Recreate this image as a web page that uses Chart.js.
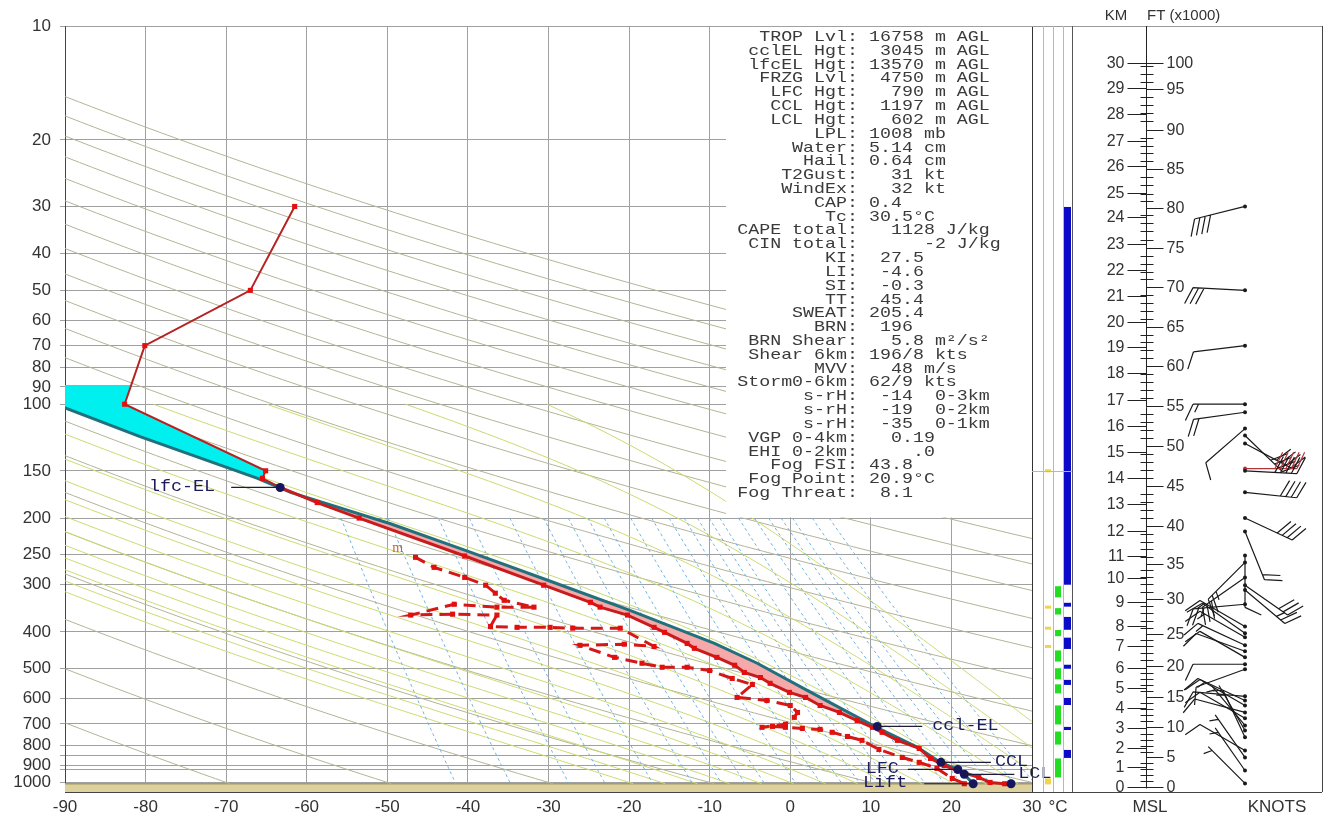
<!DOCTYPE html>
<html>
<head>
<meta charset="utf-8">
<title>Sounding</title>
<script src="https://cdn.jsdelivr.net/npm/chart.js@4.4.1/dist/chart.umd.min.js"></script>
<style>
html,body{margin:0;padding:0;background:#ffffff;overflow:hidden;}
#wrap{position:relative;width:1329px;height:816px;}
</style>
</head>
<body>
<div id="wrap"><canvas id="chart" width="1329" height="816"></canvas></div>
<script>
// ================= DATA =================
const temperatureTicks = [-90,-80,-70,-60,-50,-40,-30,-20,-10,0,10,20,30];
const pressureGridLevels = [10,20,30,40,50,60,70,80,90,100,150,200,250,300,400,500,600,700,800,850,900,925,1000];
const pressureTickLabels = [10,20,30,40,50,60,70,80,90,100,150,200,250,300,400,500,600,700,800,900,1000];
const surfaceP = 1008;
const bottomP = 1060;
const tropopauseP = 89;

// environmental temperature (hPa, degC)
const tempP = [1008,1000,970,930,902,864,813,774,737,715,686,653,626,596,578,547,528,512,490,467,442,429,401,389,361,344,334,301,252,200,182,166,157,150,100,70,50,30];
const tempT = [26.6,24.8,23.4,20.7,19.1,17.4,16.0,13.3,11.4,10.2,8.3,6.1,3.7,1.9,-0.1,-2.5,-3.7,-5.7,-6.9,-9.1,-11.9,-12.8,-15.6,-16.9,-20.2,-23.6,-24.8,-30.6,-40.4,-53.5,-58.7,-63.3,-65.5,-65.1,-82.6,-80.1,-67.0,-61.5];

// dewpoint (hPa, degC)
const dewP = [1008,976,918,885,859,818,774,756,737,724,720,715,711,715,702,673,653,626,607,596,551,531,506,496,496,484,467,434,431,437,391,391,389,389,387,361,359,361,338,344,344,330,316,301,287,270,254];
const dewT = [21.6,20.1,18.2,16.0,13.9,11.0,8.9,7.1,5.2,3.7,1.5,-0.6,-2.2,-3.5,-0.6,0.5,0.9,0.0,-2.9,-6.6,-4.7,-7.2,-10.0,-12.8,-15.9,-18.4,-21.8,-26.1,-20.6,-16.9,-21.1,-27.0,-29.8,-33.9,-37.2,-36.4,-41.9,-47.1,-41.7,-36.4,-31.8,-35.5,-36.6,-37.8,-40.4,-44.2,-46.5];

// lifted parcel path (hPa, degC)
const parcelP = [1008,952,924,885,808,715,571,484,429,351,292,243,207,171,157,122,102];
const parcelT = [22.7,21.6,20.8,18.6,15.8,10.7,2.1,-4.1,-9.4,-19.9,-30.1,-40.4,-49.6,-62.0,-66.1,-80.6,-90.1];
const capeTopP = 166;
const capeBaseP = 930;

// level markers
const markerNames = ['lfc-EL','ccl-EL','CCL','LFC','LCL','Lift',''];
const markerP = [166,711,885,924,952,1008,1008];
const markerT = [-63.3,10.8,18.7,20.8,21.6,22.7,27.4];
const moistTopLabel = {text:'m', t:-48.7, p:240};

// thermodynamic reference lines
const dryAdiabatThetaC = [-70,-50,-30,-10,10,30,50,70,90,110,130,150,170,190,210,230,250,270,290,310,330];
const moistAdiabatThetaWC = [-20,-16,-12,-8,-4,0,4,8,12,16,20,24,28,32,36,40];
const mixingRatioGkg = [0.1,0.2,0.4,0.6,1,1.5,2,2.5,3,4,5,6,7,8,9,10,12,14,16,18,20,24,28];

// stats block
const statLabels = ['TROP Lvl:','cclEL Hgt:','lfcEL Hgt:','FRZG Lvl:','LFC Hgt:','CCL Hgt:','LCL Hgt:','LPL:','Water:','Hail:','T2Gust:','WindEx:','CAP:','Tc:','CAPE total:','CIN total:','KI:','LI:','SI:','TT:','SWEAT:','BRN:','BRN Shear:','Shear 6km:','MVV:','Storm0-6km:','s-rH:','s-rH:','s-rH:','VGP 0-4km:','EHI 0-2km:','Fog FSI:','Fog Point:','Fog Threat:'];
const statValues = ['16758 m AGL',' 3045 m AGL','13570 m AGL',' 4750 m AGL','  790 m AGL',' 1197 m AGL','  602 m AGL','1008 mb','5.14 cm','0.64 cm','  31 kt','  32 kt','0.4','30.5°C','  1128 J/kg','     -2 J/kg',' 27.5',' -4.6',' -0.3',' 45.4','205.4',' 196','  5.8 m²/s²','196/8 kts','  48 m/s','62/9 kts',' -14  0-3km',' -19  0-2km',' -35  0-1km','  0.19','    .0','43.8','20.9°C',' 8.1'];
const statsBoxLeftT = -8;
const statsBoxBottomP = 200;

// height scale (km MSL -> pressure level in this sounding)
const kmLabels = [0,1,2,3,4,5,6,7,8,9,10,11,12,13,14,15,16,17,18,19,20,21,22,23,24,25,26,27,28,29,30];
const kmPressure = [1031,912.6,813,719.7,637.2,564.1,499.4,436.8,386.6,334.0,288.6,252.5,216.8,183.9,157.0,134.0,114.4,97.6,82.8,70.7,60.7,51.8,44.2,37.7,32.0,27.7,23.5,20.2,17.1,14.6,12.5];
const ftLabels = [0,5,10,15,20,25,30,35,40,45,50,55,60,65,70,75,80,85,90,95,100];

// side strips (pressure layers)
const blueLayers = [[30,301],[334,344],[364,396],[413,445],[487,502],[534,554],[596,626],[711,729],[818,864]];
const greenLayers = [[301,326],[344,362],[393,413],[445,482],[496,537],[547,585],[622,707],[729,799],[859,976]];
const yellowMarks = [150,344,391,437];
const yellowBlock = [976,1012];

// winds
const windP = [30,50,70,100,105,116,121,127,148,150,171,200,217,251,262,287,301,310,338,387,403,413,434,450,467,487,502,592,607,626,653,677,707,729,760,823,859,930,1006];
const windDir = [256,273,263,270,262,229,134,118,90,93,96,115,158,180,225,235,125,130,265,300,305,300,295,290,300,270,250,275,295,300,285,300,320,330,335,300,325,325,315];
const windSpd = [40,30,10,15,20,10,40,40,50,50,40,40,20,10,25,30,30,25,25,15,10,15,15,10,10,10,10,10,10,15,10,10,5,5,5,10,5,5,5];
const highlightWindP = 148;

// ================= THERMODYNAMIC REFERENCE CURVES =================
const Rd = 287.04, Cp = 1005.7, Lv = 2.501e6, EPS = 0.622, KAPPA = Rd / Cp;
function satVap(tc){ return 6.112 * Math.exp(17.67 * tc / (tc + 243.5)); }
function satMix(tc, p){ const e = satVap(tc); return EPS * e / (p - e); }
function moistRate(tc, p){
  const T = tc + 273.15, r = satMix(tc, p);
  return (Rd * T + Lv * r) / (Cp + Lv * Lv * r * EPS / (Rd * T * T)) / p;
}
function dryLine(thC){
  const pts = [], n = 150, l0 = Math.log10(10), l1 = Math.log10(surfaceP);
  for (let i = 0; i <= n; i++){
    const p = Math.pow(10, l0 + (l1 - l0) * i / n);
    pts.push({x: (thC + 273.15) * Math.pow(p / 1000, KAPPA) - 273.15, y: p});
  }
  return pts;
}
function moistLine(tw){
  const pts = [];
  pts.push({x: tw + moistRate(tw, 1000) * (surfaceP - 1000), y: surfaceP});
  let t = tw, p = 1000; pts.push({x: t, y: p});
  const dp = -5;
  while (p > 100){
    const k1 = moistRate(t, p), k2 = moistRate(t + k1 * dp / 2, p + dp / 2),
          k3 = moistRate(t + k2 * dp / 2, p + dp / 2), k4 = moistRate(t + k3 * dp, p + dp);
    t += dp * (k1 + 2 * k2 + 2 * k3 + k4) / 6; p += dp;
    pts.push({x: t, y: p});
  }
  return pts;
}
function mixLine(w){
  const pts = [], n = 40;
  for (let i = 0; i <= n; i++){
    const p = 200 + (surfaceP - 200) * i / n;
    const e = (w / 1000) * p / (EPS + w / 1000);
    const a = Math.log(e / 6.112);
    pts.push({x: 243.5 * a / (17.67 - a), y: p});
  }
  return pts;
}
function zip(ts, ps){ return ts.map((t, i) => ({x: t, y: ps[i]})); }
function tempAt(p){
  for (let i = 0; i < tempP.length - 1; i++){
    const a = tempP[i], b = tempP[i + 1];
    if ((p <= a && p >= b) || (p >= a && p <= b)){
      const f = (Math.log(p) - Math.log(a)) / (Math.log(b) - Math.log(a));
      return tempT[i] + f * (tempT[i + 1] - tempT[i]);
    }
  }
  return tempT[tempT.length - 1];
}

// fill polygons built from the profiles
const capePolygon = [];
parcelP.forEach((p, i) => { if (p <= capeBaseP && p >= capeTopP) capePolygon.push({x: parcelT[i], y: p}); });
for (let i = tempP.length - 1; i >= 0; i--){ if (tempP[i] >= capeTopP && tempP[i] <= capeBaseP) capePolygon.push({x: tempT[i], y: tempP[i]}); }

const cyanPolygon = [];
parcelP.forEach((p, i) => { if (p <= 157) cyanPolygon.push({x: parcelT[i], y: p}); });
cyanPolygon.push({x: parcelT[parcelT.length - 1], y: tropopauseP});
cyanPolygon.push({x: tempAt(tropopauseP), y: tropopauseP});
for (let i = tempP.length - 1; i >= 0; i--){ if (tempP[i] >= 100 && tempP[i] <= 157) cyanPolygon.push({x: tempT[i], y: tempP[i]}); }

// ================= DATASETS =================
const datasets = [];
dryAdiabatThetaC.forEach(th => datasets.push({data: dryLine(th), borderColor: '#b5b396', borderWidth: 1, pointRadius: 0, order: 30}));
moistAdiabatThetaWC.forEach(tw => datasets.push({data: moistLine(tw), borderColor: '#ccda70', borderWidth: 1, pointRadius: 0, order: 29}));
mixingRatioGkg.forEach(w => datasets.push({data: mixLine(w), borderColor: '#72b4dc', borderWidth: 1, borderDash: [3, 3], pointRadius: 0, order: 28}));
datasets.push({data: capePolygon, fill: 'shape', backgroundColor: '#f5a9ab', borderColor: 'rgba(0,0,0,0)', borderWidth: 0, pointRadius: 0, order: 20});
datasets.push({data: cyanPolygon, fill: 'shape', backgroundColor: '#00f0f0', borderColor: 'rgba(0,0,0,0)', borderWidth: 0, pointRadius: 0, order: 20});
datasets.push({data: zip(parcelT, parcelP), borderColor: '#21707b', borderWidth: 3, pointRadius: 0, order: 10});
datasets.push({data: zip(dewT, dewP), borderColor: '#d41818', borderWidth: 3, borderDash: [12, 7], pointRadius: 3.6, pointStyle: 'rect', pointBackgroundColor: '#e20f0f', pointBorderWidth: 0, order: 6});
datasets.push({data: zip(tempT, tempP), borderColor: '#c81c1c', borderWidth: 3, pointRadius: 3.6, pointStyle: 'rect', pointBackgroundColor: '#e50d0d', pointBorderWidth: 0, order: 5,
  segment: {borderWidth: c => (c.p1.parsed.y < 160 ? 2 : 3), borderColor: c => (c.p1.parsed.y < 160 ? '#b52222' : '#c81c1c')}});
datasets.push({data: zip(markerT, markerP), showLine: false, pointRadius: 4.5, pointBackgroundColor: '#16165e', pointBorderColor: '#16165e', pointBorderWidth: 0, order: 1});

// ================= DRAW HELPERS =================
function stretchText(ctx, text, x, y, align, sx){
  ctx.save(); ctx.translate(x, y); ctx.scale(sx, 1); ctx.textAlign = align; ctx.fillText(text, 0, 0); ctx.restore();
}
function hline(ctx, x1, x2, y){ ctx.beginPath(); ctx.moveTo(x1, y); ctx.lineTo(x2, y); ctx.stroke(); }
function vline(ctx, x, y1, y2){ ctx.beginPath(); ctx.moveTo(x, y1); ctx.lineTo(x, y2); ctx.stroke(); }
function pressureAtKm(h){
  for (let i = 0; i < kmLabels.length - 1; i++){
    if (h >= kmLabels[i] && h <= kmLabels[i + 1]){
      const f = (h - kmLabels[i]) / (kmLabels[i + 1] - kmLabels[i]);
      return Math.exp(Math.log(kmPressure[i]) + f * (Math.log(kmPressure[i + 1]) - Math.log(kmPressure[i])));
    }
  }
  return kmPressure[kmPressure.length - 1];
}
function drawBarb(ctx, bx, by, dir, spd, color){
  const L = 52, FL = 18, GAP = 5.5;
  const r = dir * Math.PI / 180;
  const ux = Math.sin(r), uy = -Math.cos(r);
  const px = uy, py = -ux; // southern-hemisphere feather side
  const ang = 25 * Math.PI / 180;
  const fx = px * Math.cos(ang) + ux * Math.sin(ang), fy = py * Math.cos(ang) + uy * Math.sin(ang);
  const tx = bx + ux * L, ty = by + uy * L;
  ctx.strokeStyle = color; ctx.lineWidth = 1.2;
  ctx.beginPath(); ctx.moveTo(bx, by); ctx.lineTo(tx, ty);
  let s = Math.round(spd / 5) * 5, pos = 0;
  while (s >= 10){
    const x0 = tx - ux * pos, y0 = ty - uy * pos;
    ctx.moveTo(x0, y0); ctx.lineTo(x0 + fx * FL, y0 + fy * FL);
    pos += GAP; s -= 10;
  }
  if (s >= 5){
    if (pos === 0) pos = GAP;
    const x0 = tx - ux * pos, y0 = ty - uy * pos;
    ctx.moveTo(x0, y0); ctx.lineTo(x0 + fx * FL / 2, y0 + fy * FL / 2);
  }
  ctx.stroke();
  ctx.fillStyle = color; ctx.beginPath(); ctx.arc(bx, by, 2, 0, Math.PI * 2); ctx.fill();
}

const markerLabelStyle = {
  'lfc-EL': {side: -1, leader: 49, gap: 16},
  'ccl-EL': {side: 1, leader: 45, gap: 10},
  'CCL': {side: 1, leader: 50, gap: 4},
  'LFC': {side: -1, leader: 50, gap: 9},
  'LCL': {side: 1, leader: 50, gap: 4},
  'Lift': {side: -1, leader: 49, gap: 17}
};

const soundingPlugin = {
  id: 'sounding',
  beforeDatasetsDraw(chart){
    const {ctx, chartArea: a, scales: {y}} = chart;
    const yg = y.getPixelForValue(surfaceP);
    ctx.save();
    ctx.fillStyle = '#ddd19e';
    ctx.fillRect(a.left, yg, a.right - a.left, a.bottom - yg);
    ctx.strokeStyle = '#a59c66'; ctx.lineWidth = 1.5;
    hline(ctx, a.left, a.right, yg);
    ctx.restore();
  },
  afterDatasetsDraw(chart){
    const {ctx, chartArea: a, scales: {x, y}} = chart;
    const R = a.right;
    ctx.save();

    // stats box
    const bx = Math.round(x.getPixelForValue(statsBoxLeftT));
    const by = Math.round(y.getPixelForValue(statsBoxBottomP));
    ctx.fillStyle = '#ffffff';
    ctx.fillRect(bx, a.top + 1, R - bx, by - a.top - 1.5);
    ctx.fillStyle = '#3a3a3a';
    ctx.font = '15px "Liberation Mono", monospace';
    ctx.textBaseline = 'middle';
    statLabels.forEach((lab, i) => {
      const yy = a.top + 11 + i * 13.82;
      stretchText(ctx, lab, R - 174, yy, 'right', 1.22);
      stretchText(ctx, statValues[i], R - 163, yy, 'left', 1.22);
    });

    // level marker labels
    ctx.font = '16px "Liberation Mono", monospace';
    ctx.fillStyle = '#1c1c5a'; ctx.strokeStyle = '#1c1c3a'; ctx.lineWidth = 1.2;
    markerNames.forEach((nm, i) => {
      const st = markerLabelStyle[nm]; if (!st) return;
      const px = x.getPixelForValue(markerT[i]), py = y.getPixelForValue(markerP[i]);
      hline(ctx, px, px + st.side * st.leader, py);
      stretchText(ctx, nm, px + st.side * (st.leader + st.gap), py - 1, st.side > 0 ? 'left' : 'right', 1.15);
    });
    ctx.font = '14px "Liberation Serif", serif';
    ctx.fillStyle = '#c8642c';
    ctx.textAlign = 'center';
    ctx.fillText(moistTopLabel.text, x.getPixelForValue(moistTopLabel.t), y.getPixelForValue(moistTopLabel.p));

    // borders
    ctx.strokeStyle = '#333'; ctx.lineWidth = 1;
    vline(ctx, R + 0.5, a.top, a.bottom);
    ctx.strokeStyle = '#9a9a9a';
    hline(ctx, R, R + 290, a.top + 0.5);
    ctx.strokeStyle = '#444';
    hline(ctx, R, R + 290, a.bottom + 0.5);
    vline(ctx, R + 290.5, a.top, a.bottom);

    // side strips
    const py = p => y.getPixelForValue(p);
    ctx.fillStyle = '#0a0ac8';
    blueLayers.forEach(([t, b]) => { const y1 = py(t), y2 = py(b); ctx.fillRect(R + 32, y1 + 0.5, 7, y2 - y1 - 1); });
    ctx.fillStyle = '#22dd22';
    greenLayers.forEach(([t, b]) => { const y1 = py(t), y2 = py(b); ctx.fillRect(R + 23, y1 + 1, 6, y2 - y1 - 2); });
    ctx.fillStyle = '#f0d44a';
    yellowMarks.forEach(p => { ctx.fillRect(R + 13, py(p) - 1.5, 6, 3); });
    ctx.fillRect(R + 13, py(yellowBlock[0]), 6, py(yellowBlock[1]) - py(yellowBlock[0]));
    ctx.strokeStyle = '#b8b8b8'; ctx.lineWidth = 1;
    [11, 21, 31].forEach(o => vline(ctx, R + o + 0.5, a.top, a.bottom));
    hline(ctx, R, R + 40, Math.round(py(150)) + 0.5);
    ctx.strokeStyle = '#555';
    vline(ctx, R + 40.5, a.top, a.bottom);

    // height axis
    const ax = R + 114.5;
    ctx.strokeStyle = '#222'; ctx.lineWidth = 1;
    vline(ctx, ax, a.top, py(kmPressure[0]) + 1);
    ctx.fillStyle = '#333'; ctx.font = '16px "Liberation Sans", Arial, sans-serif';
    ctx.textBaseline = 'middle';
    kmLabels.forEach((k, i) => {
      const yy = Math.round(py(kmPressure[i])) + 0.5;
      hline(ctx, ax - 19, ax, yy);
      ctx.textAlign = 'right'; ctx.fillText(String(k), ax - 22, yy);
    });
    for (let f = 0; f <= 100; f++){
      const yy = Math.round(py(pressureAtKm(f * 0.3048))) + 0.5;
      if (ftLabels.includes(f)){
        hline(ctx, ax, ax + 17, yy);
        ctx.textAlign = 'left'; ctx.fillText(String(f), ax + 20, yy);
      } else {
        hline(ctx, ax - 6, ax + 7, yy);
      }
    }

    // wind barbs
    windP.forEach((p, i) => {
      const col = p === highlightWindP ? '#b4343c' : '#1a1a1a';
      drawBarb(ctx, R + 213, py(p), windDir[i], windSpd[i], col);
    });

    // panel titles
    ctx.fillStyle = '#333'; ctx.textBaseline = 'middle';
    ctx.font = '15px "Liberation Sans", Arial, sans-serif';
    ctx.textAlign = 'center'; ctx.fillText('KM', R + 84, 16);
    ctx.textAlign = 'left'; ctx.fillText('FT (x1000)', R + 115, 16);
    ctx.font = '17px "Liberation Sans", Arial, sans-serif';
    ctx.textAlign = 'center';
    ctx.fillText('°C', R + 26, 807);
    ctx.fillText('MSL', R + 118, 807);
    ctx.fillText('KNOTS', R + 245, 807);
    ctx.restore();
  }
};

Chart.defaults.font.family = '"Liberation Sans", Arial, sans-serif';
new Chart(document.getElementById('chart'), {
  type: 'line',
  data: {datasets},
  plugins: [soundingPlugin],
  options: {
    responsive: false, animation: false, events: [],
    layout: {padding: {left: 0, top: 26, right: 297, bottom: 0}},
    plugins: {legend: {display: false}, tooltip: {enabled: false}, title: {display: false}},
    elements: {line: {tension: 0}},
    scales: {
      x: {
        type: 'linear', min: temperatureTicks[0], max: temperatureTicks[temperatureTicks.length - 1], position: 'bottom',
        afterBuildTicks: s => { s.ticks = temperatureTicks.map(v => ({value: v})); },
        ticks: {color: '#333', font: {size: 17}, padding: 5, autoSkip: false, maxRotation: 0, callback: v => String(v)},
        grid: {color: '#a0a0a0', lineWidth: 1, drawTicks: false},
        border: {color: '#444', width: 1},
        afterFit: s => { s.height = 24; }
      },
      y: {
        type: 'logarithmic', reverse: true, min: 10, max: bottomP, position: 'left',
        afterBuildTicks: s => { s.ticks = pressureGridLevels.map(v => ({value: v})); },
        ticks: {color: '#333', font: {size: 17}, padding: 9, autoSkip: false,
          callback: v => (pressureTickLabels.includes(v) ? String(v) : '')},
        grid: {color: '#a0a0a0', lineWidth: 1, tickLength: 5, drawTicks: true},
        border: {color: '#444', width: 1},
        afterFit: s => { s.width = 65; }
      }
    }
  }
});
</script>
</body>
</html>
